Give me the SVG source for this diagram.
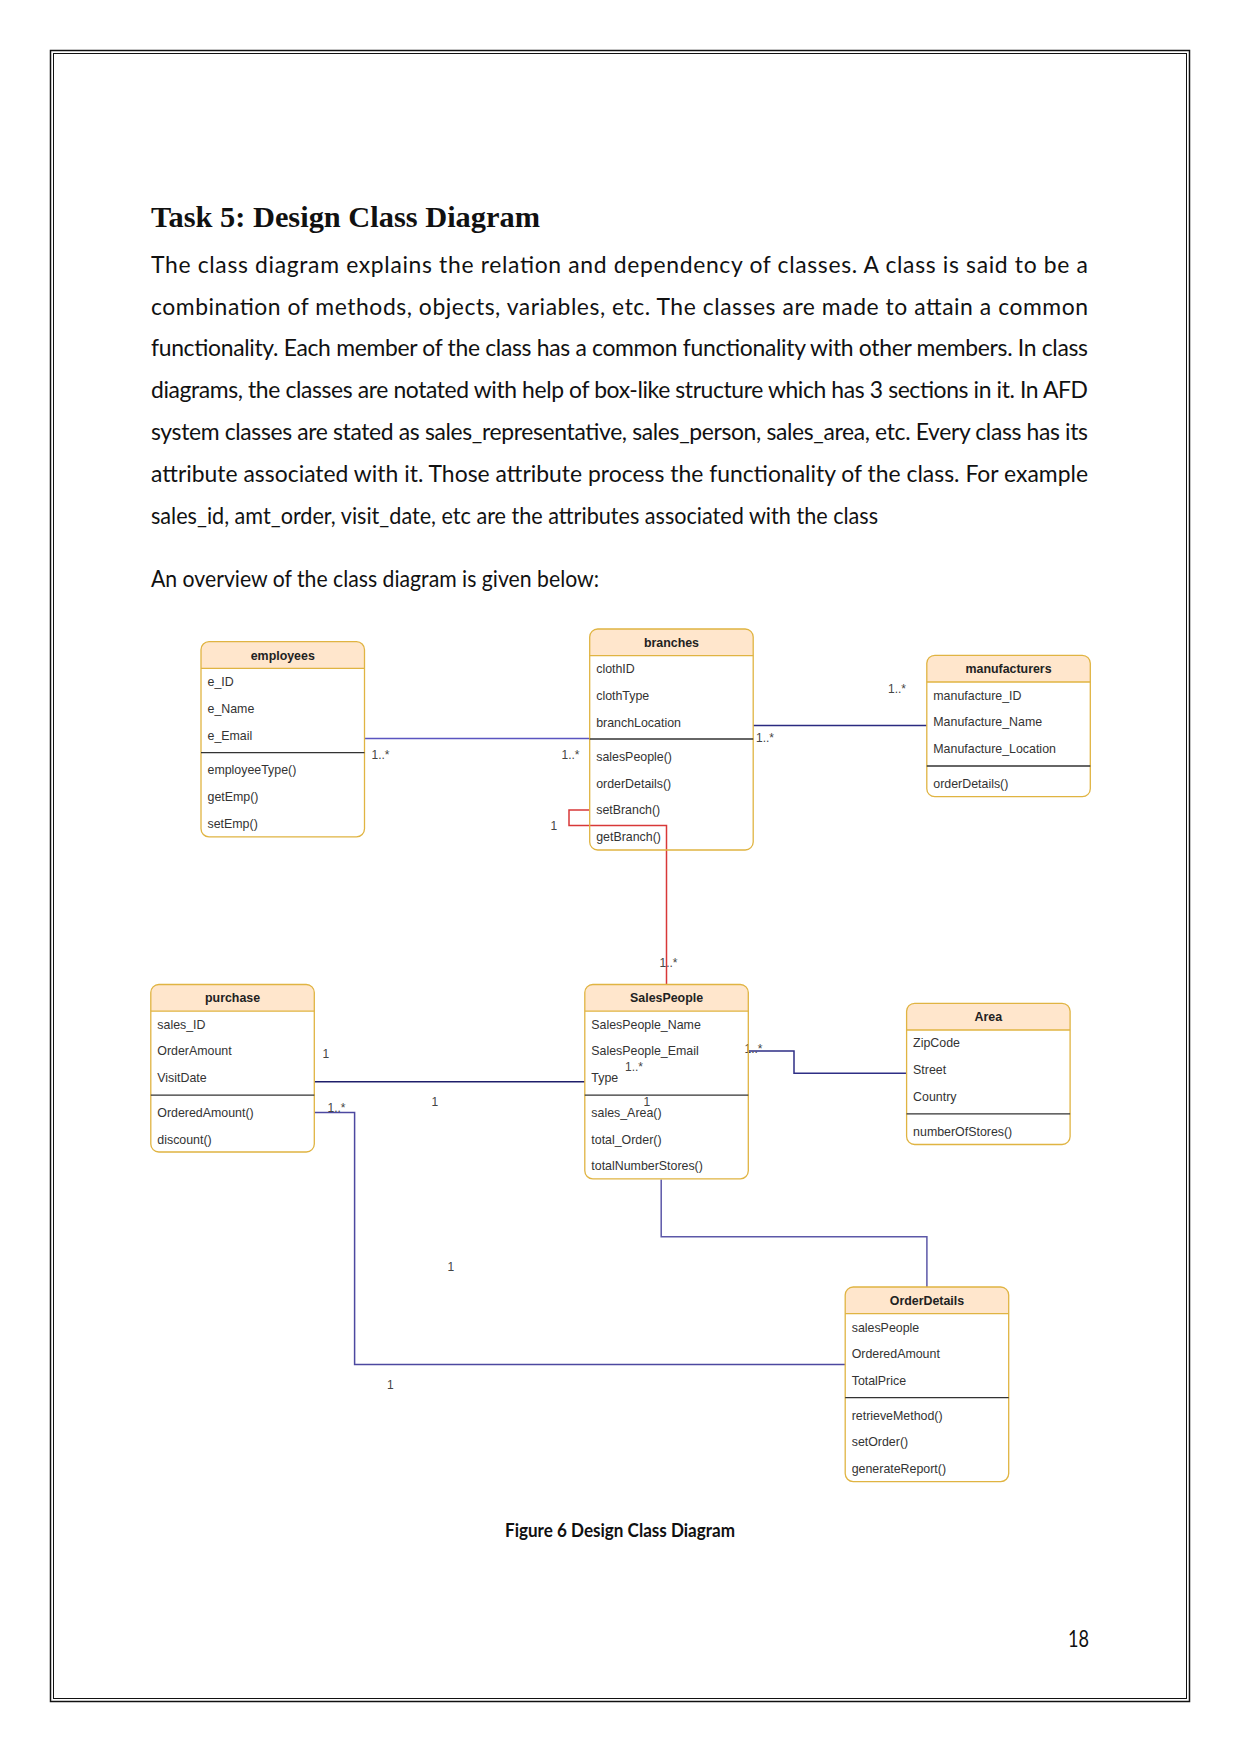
<svg xmlns="http://www.w3.org/2000/svg" width="1241" height="1754" viewBox="0 0 1241 1754">
<style>
.body{font-family:Lato,"Liberation Sans",sans-serif;font-size:22.9px;fill:#111}
.title{font-family:"Liberation Serif",serif;font-weight:bold;font-size:29px;fill:#111}
.cap{font-family:Lato,"Liberation Sans",sans-serif;font-weight:bold;font-size:18.5px;fill:#111}
.hd{fill:#ffe6cc}
.frame{fill:none;stroke:#e0b442;stroke-width:1.3}
.hline{stroke:#e0b442;stroke-width:1.3}
.dline{stroke:#333;stroke-width:1.3}
.nm{font-family:"Liberation Sans",Arial,sans-serif;font-size:12.4px;font-weight:bold;fill:#222;text-anchor:middle}
.it{font-family:"Liberation Sans",Arial,sans-serif;font-size:12.4px;fill:#333}
.lbl{font-family:"Liberation Sans",Arial,sans-serif;font-size:12px;fill:#444}
.c{fill:none;stroke-width:1.5}
</style>
<rect x="0" y="0" width="1241" height="1754" fill="#fff"/>
<rect x="50.5" y="50.5" width="1139" height="1651" fill="none" stroke="#111" stroke-width="1.5"/>
<rect x="53.5" y="53.5" width="1133" height="1645" fill="none" stroke="#111" stroke-width="1"/>

<text class="title" x="151" y="227" textLength="389" lengthAdjust="spacingAndGlyphs">Task 5: Design Class Diagram</text>
<g class="body">
<text x="151" y="272.8" textLength="937" lengthAdjust="spacing">The class diagram explains the relation and dependency of classes. A class is said to be a</text>
<text x="151" y="314.6" textLength="937" lengthAdjust="spacing">combination of methods, objects, variables, etc. The classes are made to attain a common</text>
<text x="151" y="356.4" textLength="937" lengthAdjust="spacing">functionality. Each member of the class has a common functionality with other members. In class</text>
<text x="151" y="398.2" textLength="937" lengthAdjust="spacing">diagrams, the classes are notated with help of box-like structure which has 3 sections in it. In AFD</text>
<text x="151" y="440" textLength="937" lengthAdjust="spacing">system classes are stated as sales_representative, sales_person, sales_area, etc. Every class has its</text>
<text x="151" y="481.8" textLength="937" lengthAdjust="spacing">attribute associated with it. Those attribute process the functionality of the class. For example</text>
<text x="151" y="523.6" textLength="727" lengthAdjust="spacingAndGlyphs">sales_id, amt_order, visit_date, etc are the attributes associated with the class</text>
<text x="151" y="587" textLength="448" lengthAdjust="spacingAndGlyphs">An overview of the class diagram is given below:</text>
</g>

<g id="connectors">
<path class="c" stroke="#5a55c0" d="M365 738.5 H589.7"/>
<path class="c" stroke="#2a2a80" d="M753.2 725.5 H926.8"/>
<path class="c" stroke="#d83838" d="M589.7 810 H569 V825.5 H666.5 V984.5"/>
<path class="c" stroke="#1e1e6a" d="M314.3 1081.8 H584.8"/>
<path class="c" stroke="#2e2e85" d="M748.3 1051 H794 V1073.3 H906.6"/>
<path class="c" stroke="#5c58a8" d="M661.2 1179.6 V1236.7 H926.9 V1287"/>
<path class="c" stroke="#4c48a0" d="M314.3 1112.5 H354.6 V1364.5 H845.2"/>
<text class="lbl" x="371.5" y="758.5">1..*</text>
<text class="lbl" x="561.5" y="758.5">1..*</text>
<text class="lbl" x="756" y="741.5">1..*</text>
<text class="lbl" x="888" y="692.5">1..*</text>
<text class="lbl" x="550.5" y="829.5">1</text>
<text class="lbl" x="659.5" y="967">1..*</text>
<text class="lbl" x="322.5" y="1057.5">1</text>
<text class="lbl" x="431.5" y="1106">1</text>
<text class="lbl" x="625" y="1071">1..*</text>
<text class="lbl" x="643.5" y="1105.5">1</text>
<text class="lbl" x="744.5" y="1053">1..*</text>
<text class="lbl" x="327.5" y="1111.5">1..*</text>
<text class="lbl" x="447.5" y="1271">1</text>
<text class="lbl" x="387" y="1388.5">1</text>
</g>

<g id="employees">
<path class="hd" d="M201 668.4 V649.7 Q201 641.7 209 641.7 H356.5 Q364.5 641.7 364.5 649.7 V668.4 Z"/>
<rect class="frame" x="201" y="641.7" width="163.5" height="195.1" rx="8"/>
<line class="hline" x1="201" y1="668.4" x2="364.5" y2="668.4"/>
<line class="dline" x1="201" y1="752.6" x2="364.5" y2="752.6"/>
<text class="nm" x="282.75" y="659.5">employees</text>
<text class="it" x="207.5" y="686.2">e_ID</text>
<text class="it" x="207.5" y="712.9">e_Name</text>
<text class="it" x="207.5" y="739.6">e_Email</text>
<text class="it" x="207.5" y="774.4">employeeType()</text>
<text class="it" x="207.5" y="801.1">getEmp()</text>
<text class="it" x="207.5" y="827.8">setEmp()</text>
</g>

<g id="branches">
<path class="hd" d="M589.7 655.7 V637 Q589.7 629 597.7 629 H745.2 Q753.2 629 753.2 637 V655.7 Z"/>
<rect class="frame" x="589.7" y="629" width="163.5" height="221" rx="8"/>
<line class="hline" x1="589.7" y1="655.7" x2="753.2" y2="655.7"/>
<line class="dline" x1="589.7" y1="739" x2="753.2" y2="739"/>
<text class="nm" x="671.45" y="647">branches</text>
<text class="it" x="596.2" y="673.4">clothID</text>
<text class="it" x="596.2" y="700.1">clothType</text>
<text class="it" x="596.2" y="726.8">branchLocation</text>
<text class="it" x="596.2" y="761.2">salesPeople()</text>
<text class="it" x="596.2" y="787.8">orderDetails()</text>
<text class="it" x="596.2" y="814.4">setBranch()</text>
<text class="it" x="596.2" y="841">getBranch()</text>
</g>

<g id="manufacturers">
<path class="hd" d="M926.8 682 V663.3 Q926.8 655.3 934.8 655.3 H1082.3 Q1090.3 655.3 1090.3 663.3 V682 Z"/>
<rect class="frame" x="926.8" y="655.3" width="163.5" height="141.4" rx="8"/>
<line class="hline" x1="926.8" y1="682" x2="1090.3" y2="682"/>
<line class="dline" x1="926.8" y1="766" x2="1090.3" y2="766"/>
<text class="nm" x="1008.55" y="673">manufacturers</text>
<text class="it" x="933.3" y="699.8">manufacture_ID</text>
<text class="it" x="933.3" y="726.3">Manufacture_Name</text>
<text class="it" x="933.3" y="752.8">Manufacture_Location</text>
<text class="it" x="933.3" y="787.8">orderDetails()</text>
</g>

<g id="purchase">
<path class="hd" d="M150.8 1011.2 V992.5 Q150.8 984.5 158.8 984.5 H306.3 Q314.3 984.5 314.3 992.5 V1011.2 Z"/>
<rect class="frame" x="150.8" y="984.5" width="163.5" height="167.5" rx="8"/>
<line class="hline" x1="150.8" y1="1011.2" x2="314.3" y2="1011.2"/>
<line class="dline" x1="150.8" y1="1095.2" x2="314.3" y2="1095.2"/>
<text class="nm" x="232.55" y="1002.3">purchase</text>
<text class="it" x="157.3" y="1028.7">sales_ID</text>
<text class="it" x="157.3" y="1055.4">OrderAmount</text>
<text class="it" x="157.3" y="1082.1">VisitDate</text>
<text class="it" x="157.3" y="1117">OrderedAmount()</text>
<text class="it" x="157.3" y="1143.7">discount()</text>
</g>

<g id="SalesPeople">
<path class="hd" d="M584.8 1011.2 V992.5 Q584.8 984.5 592.8 984.5 H740.3 Q748.3 984.5 748.3 992.5 V1011.2 Z"/>
<rect class="frame" x="584.8" y="984.5" width="163.5" height="194.3" rx="8"/>
<line class="hline" x1="584.8" y1="1011.2" x2="748.3" y2="1011.2"/>
<line class="dline" x1="584.8" y1="1095.2" x2="748.3" y2="1095.2"/>
<text class="nm" x="666.55" y="1002.3">SalesPeople</text>
<text class="it" x="591.3" y="1028.7">SalesPeople_Name</text>
<text class="it" x="591.3" y="1055.4">SalesPeople_Email</text>
<text class="it" x="591.3" y="1082.1">Type</text>
<text class="it" x="591.3" y="1117">sales_Area()</text>
<text class="it" x="591.3" y="1143.7">total_Order()</text>
<text class="it" x="591.3" y="1170.2">totalNumberStores()</text>
</g>

<g id="Area">
<path class="hd" d="M906.6 1030 V1011.3 Q906.6 1003.3 914.6 1003.3 H1062.1 Q1070.1 1003.3 1070.1 1011.3 V1030 Z"/>
<rect class="frame" x="906.6" y="1003.3" width="163.5" height="141.2" rx="8"/>
<line class="hline" x1="906.6" y1="1030" x2="1070.1" y2="1030"/>
<line class="dline" x1="906.6" y1="1113.8" x2="1070.1" y2="1113.8"/>
<text class="nm" x="988.35" y="1021.1">Area</text>
<text class="it" x="913.1" y="1047.4">ZipCode</text>
<text class="it" x="913.1" y="1074">Street</text>
<text class="it" x="913.1" y="1100.6">Country</text>
<text class="it" x="913.1" y="1135.8">numberOfStores()</text>
</g>

<g id="OrderDetails">
<path class="hd" d="M845.2 1313.7 V1295 Q845.2 1287 853.2 1287 H1000.7 Q1008.7 1287 1008.7 1295 V1313.7 Z"/>
<rect class="frame" x="845.2" y="1287" width="163.5" height="194.6" rx="8"/>
<line class="hline" x1="845.2" y1="1313.7" x2="1008.7" y2="1313.7"/>
<line class="dline" x1="845.2" y1="1397.7" x2="1008.7" y2="1397.7"/>
<text class="nm" x="926.95" y="1304.8">OrderDetails</text>
<text class="it" x="851.7" y="1331.5">salesPeople</text>
<text class="it" x="851.7" y="1358">OrderedAmount</text>
<text class="it" x="851.7" y="1384.6">TotalPrice</text>
<text class="it" x="851.7" y="1419.6">retrieveMethod()</text>
<text class="it" x="851.7" y="1446">setOrder()</text>
<text class="it" x="851.7" y="1472.6">generateReport()</text>
</g>

<text class="cap" x="505" y="1537" textLength="230" lengthAdjust="spacingAndGlyphs">Figure 6 Design Class Diagram</text>
<text class="body" x="1068" y="1647" textLength="21" lengthAdjust="spacingAndGlyphs">18</text>
</svg>
